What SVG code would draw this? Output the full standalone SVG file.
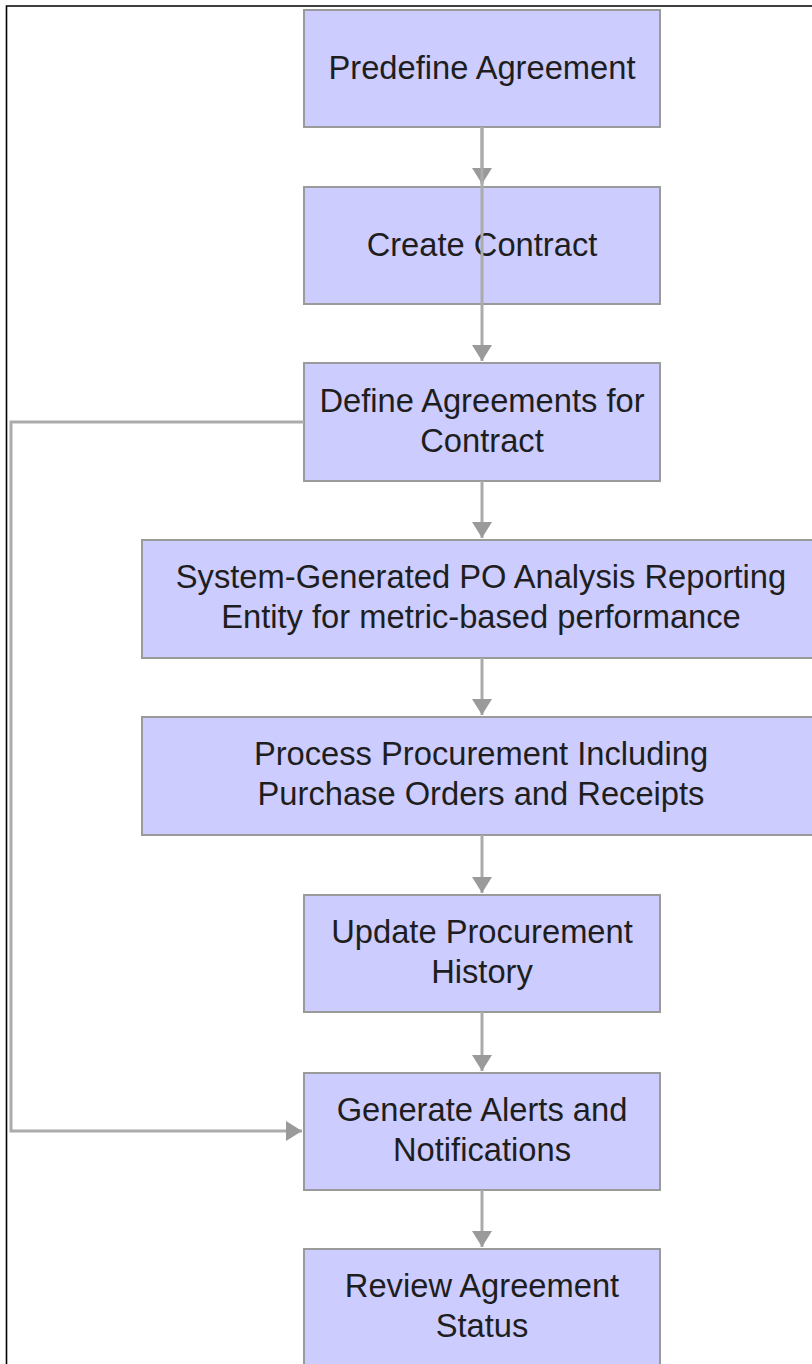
<svg xmlns="http://www.w3.org/2000/svg" width="812" height="1364" viewBox="0 0 812 1364">
  <style>
    .box { fill: #CCCCFF; stroke: #9A9A9A; stroke-width: 2; }
    .lbl { font-family: "Liberation Sans", Arial, sans-serif; font-size: 32.7px; fill: #1E1E1E; text-anchor: middle; }
    .conn { fill: none; stroke: #ABABAB; stroke-width: 3; }
    .frame { stroke: #000; stroke-width: 1.6; fill: none; }
  </style>
  <defs>
    <marker id="arrow" viewBox="0 0 16 20" refX="16" refY="10" markerWidth="16" markerHeight="20" markerUnits="userSpaceOnUse" orient="auto">
      <path d="M0,0 L16,10 L0,20 Z" fill="#9A9A9A"/>
    </marker>
  </defs>
  <rect width="812" height="1364" fill="#FFFFFF"/>
  <path class="frame" d="M6.5,1364 V6 H812"/>

  <g id="n1">
    <rect class="box" x="304" y="10" width="356" height="117"/>
    <text class="lbl" x="482" y="79">Predefine Agreement</text>
  </g>
  <g id="n2">
    <rect class="box" x="304" y="187" width="356" height="117"/>
    <text class="lbl" x="482" y="256">Create Contract</text>
  </g>
  <g id="n3">
    <rect class="box" x="304" y="363" width="356" height="118"/>
    <text class="lbl" x="482" y="412">Define Agreements for</text>
    <text class="lbl" x="482" y="452">Contract</text>
  </g>
  <g id="n4">
    <rect class="box" x="142" y="540" width="680" height="118"/>
    <text class="lbl" x="481" y="588">System-Generated PO Analysis Reporting</text>
    <text class="lbl" x="481" y="628">Entity for metric-based performance</text>
  </g>
  <g id="n5">
    <rect class="box" x="142" y="717" width="680" height="118"/>
    <text class="lbl" x="481" y="765">Process Procurement Including</text>
    <text class="lbl" x="481" y="805">Purchase Orders and Receipts</text>
  </g>
  <g id="n6">
    <rect class="box" x="304" y="895" width="356" height="117"/>
    <text class="lbl" x="482" y="943">Update Procurement</text>
    <text class="lbl" x="482" y="983">History</text>
  </g>
  <g id="n7">
    <rect class="box" x="304" y="1073" width="356" height="117"/>
    <text class="lbl" x="482" y="1121">Generate Alerts and</text>
    <text class="lbl" x="482" y="1161">Notifications</text>
  </g>
  <g id="n8">
    <rect class="box" x="304" y="1249" width="356" height="130"/>
    <text class="lbl" x="482" y="1297">Review Agreement</text>
    <text class="lbl" x="482" y="1337">Status</text>
  </g>

  <g id="connectors">
    <path class="conn" d="M482,127 V184" marker-end="url(#arrow)"/>
    <path class="conn" d="M482,127 V361" marker-end="url(#arrow)"/>
    <path class="conn" d="M482,481 V538" marker-end="url(#arrow)"/>
    <path class="conn" d="M482,658 V715" marker-end="url(#arrow)"/>
    <path class="conn" d="M482,835 V893" marker-end="url(#arrow)"/>
    <path class="conn" d="M482,1012 V1071" marker-end="url(#arrow)"/>
    <path class="conn" d="M482,1190 V1247" marker-end="url(#arrow)"/>
    <path class="conn" d="M304,422 H11 V1131 H302" marker-end="url(#arrow)"/>
  </g>
</svg>
